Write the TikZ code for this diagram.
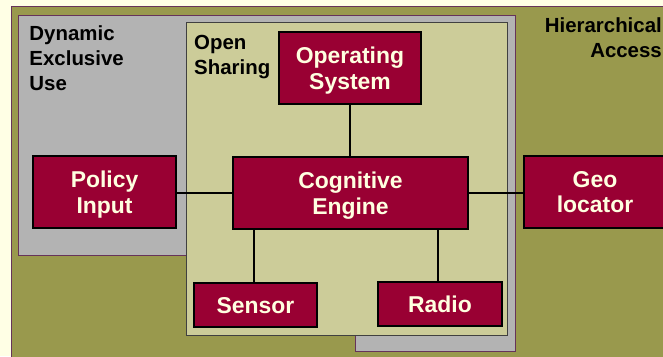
\documentclass[tikz,border=0pt]{standalone}
\usepackage{fontspec}
\setmainfont{Liberation Sans}

\definecolor{cream}{HTML}{FFFFE5}
\definecolor{olivebg}{HTML}{99994D}
\definecolor{panelgray}{HTML}{B3B3B3}
\definecolor{sharing}{HTML}{CCCC99}
\definecolor{boxred}{HTML}{990033}
\definecolor{edgepurple}{HTML}{66335A}
\definecolor{boxtext}{HTML}{FFFFE0}

\tikzset{
  block/.style={draw=black, line width=2.4bp, fill=boxred, text=boxtext,
    font=\bfseries\fontsize{23}{26}\selectfont, align=center,
    inner sep=0pt, text depth=0pt},
  link/.style={draw=black, line width=2bp},
  zone/.style={font=\bfseries\fontsize{20.5}{25}\selectfont, inner sep=0pt},
}

\begin{document}
\begin{tikzpicture}[x=1bp, y=-1bp]
  \useasboundingbox (0,0) rectangle (663,356);
  \fill[cream] (0,0) rectangle (663,356);

  % access regions
  \draw[edgepurple, fill=olivebg, line width=0.8bp] (11,6) rectangle (690,380);
  \draw[edgepurple, fill=panelgray, line width=0.8bp]
    (18,15) -- (515,15) -- (515,351) -- (355,351) -- (355,255) -- (18,255) -- cycle;
  \draw[black!75, fill=sharing, line width=0.8bp] (186,22) rectangle (507,335);

  % region labels
  \node[zone, anchor=base west] (dyn1) at (29.3,40.7) {Dynamic};
  \node[zone, anchor=base west] (dyn2) at (29.3,65.7) {Exclusive};
  \node[zone, anchor=base west] (dyn3) at (29.3,90.7) {Use};
  \node[zone, anchor=base west] (open1) at (194,49.7) {Open};
  \node[zone, anchor=base west] (open2) at (194,74.7) {Sharing};
  \node[zone, anchor=base east] (hier1) at (662,32) {Hierarchical};
  \node[zone, anchor=base east] (hier2) at (662,57) {Access};

  % attachment points of the links
  \coordinate (pjoin) at (176,193);
  \coordinate (gjoin) at (524,193);
  \coordinate (sjoin) at (254,283);
  \coordinate (rjoin) at (438,282);

  % components
  \node[block, minimum width=142bp, minimum height=72bp] (os)     at (350,68)    {Operating\\System};
  \node[block, minimum width=235bp, minimum height=72bp] (ce)     at (350.5,193) {Cognitive\\Engine};
  \node[block, minimum width=143bp, minimum height=72bp] (policy) at (104.5,192) {Policy\\Input};
  \node[block, minimum width=142bp, minimum height=72bp] (geo)    at (595,192)   {Geo\\locator};
  \node[block, minimum width=123bp, minimum height=44bp] (sensor) at (255.5,305) {Sensor};
  \node[block, minimum width=124bp, minimum height=44bp] (radio)  at (440,304)   {Radio};

  % links
  \draw[link] (os.south) -- (os.south |- ce.north);
  \draw[link] (pjoin) -- (pjoin -| ce.west);
  \draw[link] (gjoin -| ce.east) -- (gjoin);
  \draw[link] (sjoin) -- (sjoin |- ce.south);
  \draw[link] (rjoin) -- (rjoin |- ce.south);
\end{tikzpicture}
\end{document}
